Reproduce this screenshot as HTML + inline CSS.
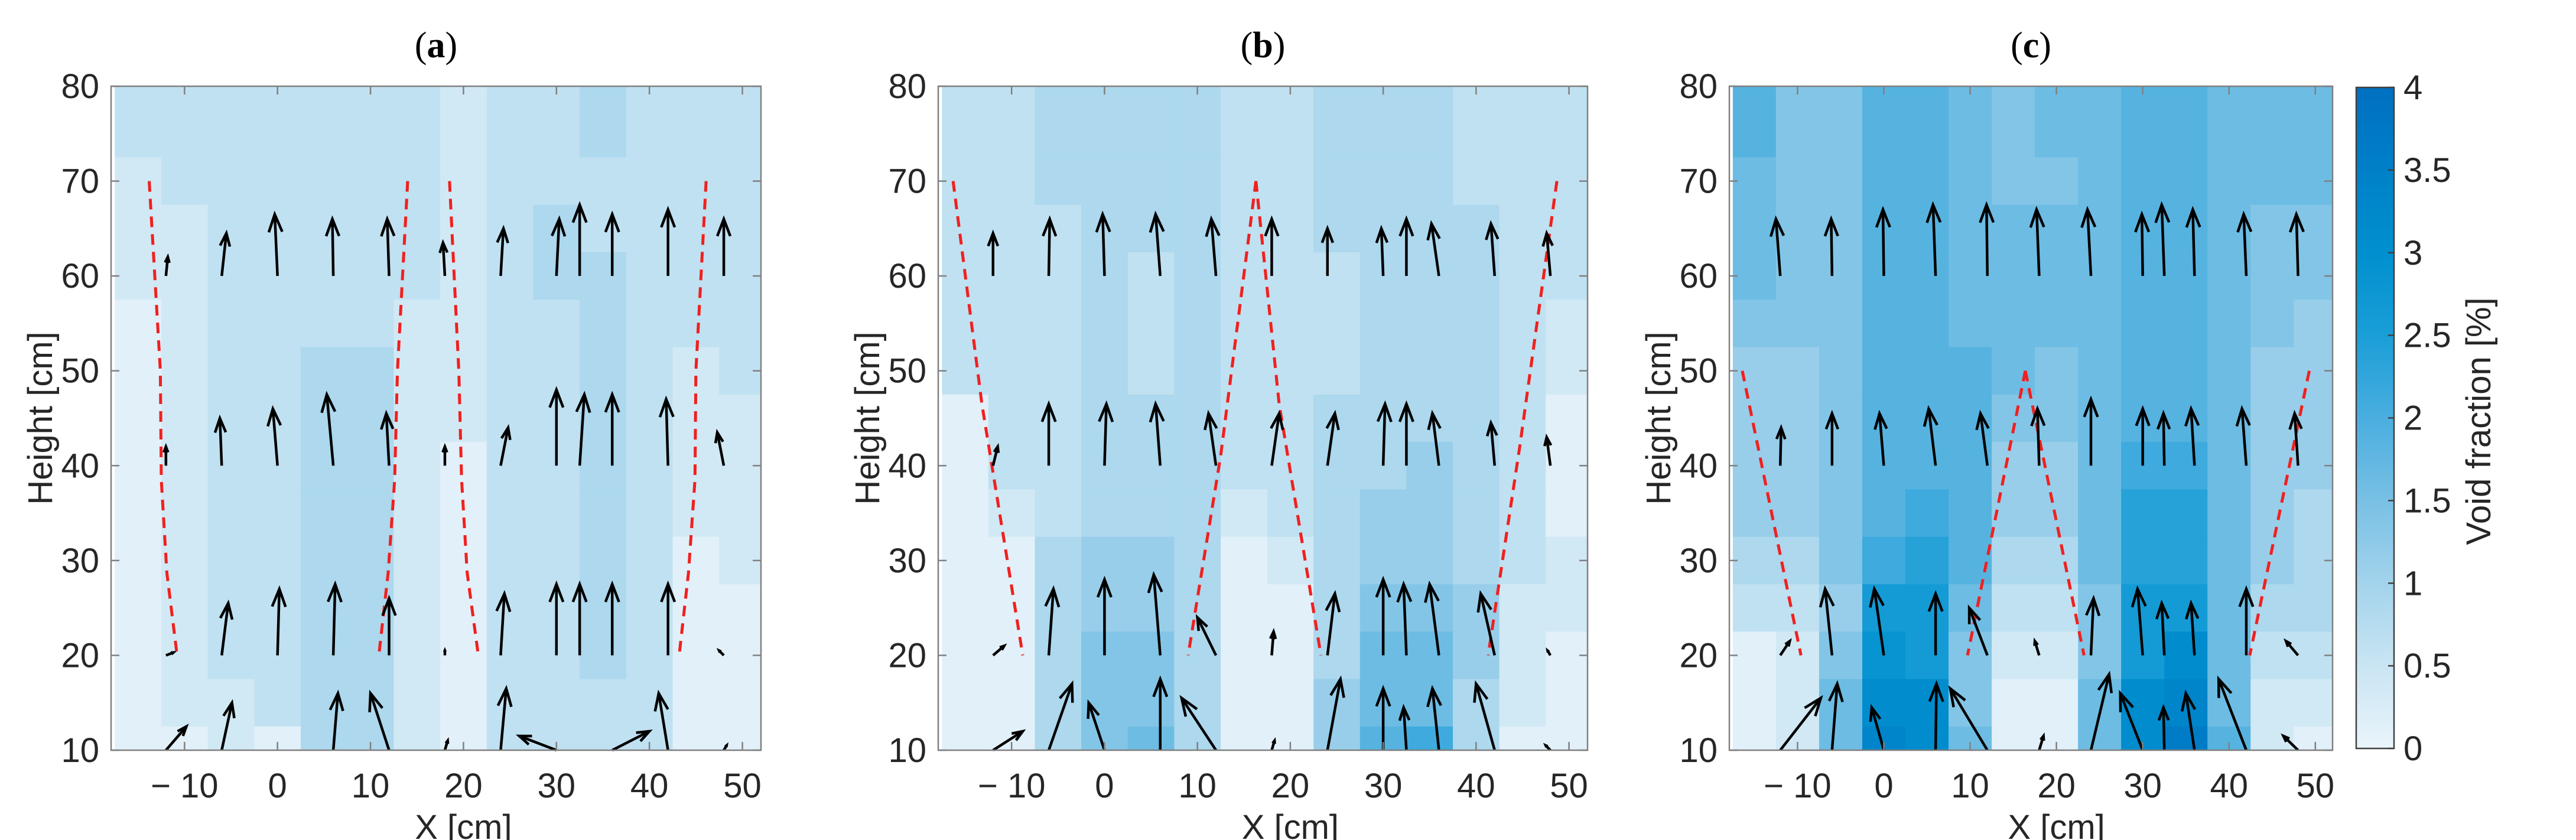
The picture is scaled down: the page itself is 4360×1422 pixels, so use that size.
<!DOCTYPE html>
<html><head><meta charset="utf-8"><style>
html,body{margin:0;padding:0;background:#fff;}
svg{display:block;font-family:"Liberation Sans",sans-serif;}
</style></head><body>
<svg id="fig" width="4360" height="1422" viewBox="0 0 4360 1422" xmlns="http://www.w3.org/2000/svg">
<defs>
<linearGradient id="cbgrad" x1="0" y1="1" x2="0" y2="0">
<stop offset="0" stop-color="#eaf4fb"/><stop offset="0.125" stop-color="#c9e5f3"/><stop offset="0.25" stop-color="#a3d3ec"/>
<stop offset="0.375" stop-color="#78c0e4"/><stop offset="0.5" stop-color="#4aaedf"/><stop offset="0.625" stop-color="#1a9ed7"/>
<stop offset="0.75" stop-color="#0090cf"/><stop offset="0.875" stop-color="#0080c8"/><stop offset="1" stop-color="#0070c0"/>
</linearGradient>
</defs>
</svg>
<script>
// ---- data ----
const xCenters = [-15,-10,-5,0,5,10,15,20,25,30,35,40,45,50];
const yCenters = [80,75,70,65,60,55,50,45,40,35,30,25,20,15,10];
const xTicks = [-10,0,10,20,30,40,50];
const xTickLabels = ["\u2212 10","0","10","20","30","40","50"];
const yTicks = [10,20,30,40,50,60,70,80];
const cbTicks = [0,0.5,1,1.5,2,2.5,3,3.5,4];
const cbTickLabels = ["0","0.5","1","1.5","2","2.5","3","3.5","4"];
const voidA = [
[.6,.6,.6,.7,.7,.6,.6,.4,.6,.7,.9,.7,.6,.6],
[.6,.6,.6,.7,.7,.7,.6,.4,.6,.7,.8,.7,.6,.6],
[.4,.6,.6,.7,.7,.7,.6,.4,.6,.7,.7,.7,.6,.6],
[.4,.4,.6,.7,.7,.7,.6,.4,.6,.8,.7,.7,.6,.6],
[.4,.4,.6,.7,.7,.7,.6,.4,.6,.8,.8,.7,.6,.6],
[.2,.4,.6,.7,.7,.7,.4,.4,.6,.7,.8,.7,.6,.6],
[.2,.4,.6,.7,.8,.8,.4,.4,.6,.7,.8,.7,.4,.6],
[.2,.4,.6,.7,.8,.8,.4,.4,.6,.7,.8,.7,.4,.4],
[.2,.4,.6,.7,.8,.8,.4,.2,.6,.7,.8,.7,.4,.4],
[.2,.4,.6,.7,.8,.8,.4,.2,.6,.7,.8,.7,.4,.4],
[.2,.4,.6,.7,.8,.8,.4,.1,.6,.7,.8,.7,.2,.4],
[.2,.4,.6,.7,.8,.8,.4,.1,.6,.7,.8,.7,.2,.2],
[.2,.4,.6,.6,.8,.8,.4,.2,.6,.7,.8,.6,.2,.2],
[.2,.4,.4,.6,.8,.9,.4,.2,.6,.6,.7,.6,.2,.2],
[.2,.2,.4,.2,.8,.9,.4,.2,.6,.6,.7,.6,.2,.2]];
const voidB = [
[.5,.5,.9,.9,.9,.9,.6,.5,.9,.9,.9,.6,.5,.5],
[.5,.5,.9,.9,.9,.9,.6,.5,.9,.9,.9,.6,.5,.5],
[.5,.5,.8,.9,.9,.9,.6,.6,.9,.9,.9,.6,.5,.5],
[.5,.5,.6,.9,.9,.9,.6,.6,.9,.9,.9,.8,.5,.5],
[.5,.5,.6,.9,.7,.9,.6,.6,.6,.9,.9,.8,.5,.5],
[.5,.5,.6,.9,.7,.8,.6,.6,.6,.9,.9,.9,.6,.4],
[.5,.5,.6,.9,.7,.8,.6,.6,.6,.9,.9,.9,.6,.4],
[.2,.5,.6,.9,.9,.8,.6,.6,.8,.9,.9,.9,.5,.2],
[.2,.5,.7,.9,.9,.9,.6,.6,.8,.9,1.1,.9,.5,.2],
[.2,.4,.7,.9,.9,.8,.4,.6,.8,1.1,1.1,.9,.5,.2],
[.2,.2,.8,1.1,1.0,.8,.2,.4,.9,1.2,1.2,.9,.5,.4],
[.2,.2,.9,1.1,1.1,.8,.2,.2,.9,1.3,1.3,1.0,.4,.4],
[.2,.2,.9,1.3,1.3,.8,.2,.2,.9,1.6,1.5,1.0,.4,.2],
[.2,.2,.9,1.3,1.3,.9,.2,.2,1.1,1.6,1.6,.9,.4,.2],
[.2,.2,.9,1.4,1.5,.9,.2,.2,1.1,1.8,2.2,.9,.2,.2]];
const voidC = [
[1.8,1.4,1.4,1.8,1.9,1.6,1.4,1.5,1.7,1.9,1.9,1.5,1.5,1.5],
[1.8,1.4,1.4,1.8,1.9,1.6,1.4,1.5,1.7,1.9,1.9,1.5,1.5,1.5],
[1.5,1.4,1.4,1.8,1.8,1.6,1.4,1.4,1.7,1.9,1.9,1.5,1.5,1.5],
[1.5,1.4,1.4,1.8,1.8,1.5,1.5,1.5,1.5,1.9,1.9,1.5,1.4,1.4],
[1.5,1.4,1.4,1.8,1.8,1.5,1.5,1.5,1.5,1.9,1.8,1.5,1.4,1.4],
[1.4,1.4,1.4,1.8,1.8,1.5,1.5,1.5,1.5,1.8,1.8,1.5,1.4,1.2],
[1.2,1.2,1.4,1.8,1.8,1.8,1.5,1.4,1.5,1.8,1.8,1.5,1.2,1.0],
[1.0,1.1,1.4,1.8,1.8,1.8,1.4,1.4,1.5,1.8,1.8,1.5,1.1,1.0],
[1.0,1.0,1.4,1.8,1.8,1.8,1.2,1.2,1.5,2.0,2.0,1.5,1.1,1.0],
[1.0,1.0,1.4,1.9,2.2,1.8,1.0,1.0,1.5,2.3,2.3,1.6,1.1,0.9],
[0.8,0.9,1.3,2.1,2.3,1.8,0.8,0.8,1.5,2.4,2.4,1.6,1.0,0.9],
[0.5,0.6,1.2,2.5,2.6,1.6,0.6,0.5,1.4,2.5,2.7,1.6,0.8,0.8],
[0.2,0.4,1.3,2.9,2.7,1.3,0.4,0.3,1.3,2.6,3.0,1.5,0.6,0.5],
[0.2,0.3,1.5,3.2,3.0,1.3,0.2,0.2,1.5,3.0,3.3,1.6,0.4,0.3],
[0.2,0.3,1.6,3.3,3.1,1.5,0.2,0.2,1.7,3.2,3.6,1.8,0.4,0.2]];
// arrows: [x0, y0, x1, y1]
const arrowsA = [
[-12,60,-11.8,62],[-6,60,-5.5,64.5],[0,60,-0.3,66.5],[6,60,5.9,66],[12,60,11.8,66],[18,60,17.8,63.5],[24,60,24.3,65],[30,60,30.3,66],[32.5,60,32.5,67.5],[36,60,36,66.5],[42,60,42,67],[48,60,48,66],
[-12,40,-12,42],[-6,40,-6.2,45],[0,40,-0.5,46],[6,40,5.3,47.5],[12,40,11.7,45.5],[18,40,18,42],[24,40,24.8,44],[30,40,30,48],[32.5,40,33,47.5],[36,40,36,47.5],[42,40,41.8,47],[48,40,47.3,43.5],
[-12,20,-11.2,20.3],[-6,20,-5.3,25.5],[0,20,0.2,27],[6,20,6.2,27.5],[12,20,12,26],[18,20,18,20.5],[24,20,24.4,26.5],[30,20,30,27.5],[32.5,20,32.5,27.5],[36,20,36,27.5],[42,20,42,27.5],[48,20,47.5,20.5],
[-12,10,-9.8,12.5],[-6,10,-4.9,15],[6,10,6.5,16],[12,10,10,16],[18,10,18.3,11],[24,10,24.6,16.5],[30,10,26,11.5],[36,10,40,12],[42,10,41,16],[48,10,48.3,10.5]];
const arrowsB = [
[-12,60,-12,64.5],[-6,60,-5.9,66],[0,60,-0.2,66.5],[6,60,5.5,66.5],[12,60,11.5,66],[18,60,18,66],[24,60,24,65],[30,60,29.8,65],[32.5,60,32.5,66],[36,60,35.2,65.5],[42,60,41.6,65.5],[48,60,47.6,64.5],
[-12,40,-11.5,42],[-6,40,-6,46.5],[0,40,0.2,46.5],[6,40,5.5,46.5],[12,40,11.2,45.5],[18,40,18.8,45.5],[24,40,24.8,45.5],[30,40,30.2,46.5],[32.5,40,32.5,46.5],[36,40,35.3,45.5],[42,40,41.6,44.5],[48,40,47.6,43],
[-12,20,-10.8,21],[-6,20,-5.5,27],[0,20,0,28],[6,20,5.3,28.5],[12,20,10,24],[18,20,18.2,22.5],[24,20,24.8,26.5],[30,20,30,28],[32.5,20,32.2,27.5],[36,20,35,27.5],[42,20,40.5,26.5],[48,20,47.7,20.5],
[-12,10,-8.8,12],[-6,10,-3.5,17],[0,10,-1.7,15],[6,10,6,17.5],[12,10,8.3,15.5],[18,10,18.3,11],[24,10,25.4,17.5],[30,10,30,16.5],[32.5,10,32.2,14.5],[36,10,35.3,16.5],[42,10,40,17],[48,10,47.5,10.5]];
const arrowsC = [
[-12,60,-12.5,66],[-6,60,-6.1,66],[0,60,-0.1,67],[6,60,5.7,67.5],[12,60,11.9,67.5],[18,60,17.7,67],[24,60,23.6,67],[30,60,29.9,66.5],[32.5,60,32.2,67.5],[36,60,35.8,67],[42,60,41.7,66.5],[48,60,47.8,66.5],
[-12,40,-11.9,44],[-6,40,-6,45.5],[0,40,-0.5,45.5],[6,40,5.2,46],[12,40,11.2,45.5],[18,40,17.8,46],[24,40,24,47],[30,40,30,46],[32.5,40,32.4,45.5],[36,40,35.6,46],[42,40,41.5,46],[48,40,47.6,45.5],
[-12,20,-10.9,21.5],[-6,20,-6.8,27],[0,20,-1.1,27],[6,20,6,26.5],[12,20,9.9,25],[18,20,17.5,21.5],[24,20,24.3,26],[30,20,29.4,27],[32.5,20,32.2,25.5],[36,20,35.6,25.5],[42,20,42,27],[48,20,46.6,21.5],
[-12,10,-7.3,15.5],[-6,10,-5.4,17],[0,10,-1.4,14.5],[6,10,6.1,17],[12,10,7.7,16.5],[18,10,18.5,11.5],[24,10,26.1,18],[30,10,27.4,16],[32.5,10,32.4,14.5],[36,10,35,16],[42,10,38.8,17.5],[48,10,46.3,11.5]];
// red dashed boundary lines: arrays of [x,y]
const linesA = [
[[-13.8,70],[-12.6,50],[-12.5,38.5],[-11.9,28.7],[-10.8,20]],
[[14,70],[12.9,50],[12.6,38.5],[11.9,28.7],[10.9,20]],
[[18.5,70],[19.5,50],[19.8,38.5],[20.4,28.7],[21.6,20]],
[[46.1,70],[45,50],[44.9,38.5],[44.2,28.7],[43.2,20]]];
const linesB = [
[[-16.3,70],[-13.2,46.5],[-8.8,20]],
[[16.3,70],[12.5,41],[9,20]],
[[16.3,70],[18.8,46.5],[23.3,20]],
[[48.7,70],[44.7,42],[41.3,20]]];
const linesC = [
[[-16.4,50],[-9.6,20]],
[[16.4,50],[9.7,20]],
[[16.4,50],[23.2,20]],
[[49.3,50],[42.4,20]]];

// ---- rendering ----
const NS="http://www.w3.org/2000/svg";
const svg=document.getElementById('fig');
function mk(tag,attrs,parent){const e=document.createElementNS(NS,tag);for(const k in attrs)e.setAttribute(k,attrs[k]);(parent||svg).appendChild(e);return e;}
const stops=[[0,[234,244,251]],[0.5,[201,229,243]],[1,[163,211,236]],[1.5,[120,192,228]],[2,[74,174,223]],[2.5,[26,158,215]],[3,[0,144,207]],[3.5,[0,128,200]],[4,[0,112,192]]];
function cmap(v){let q=Math.min(3.875,Math.floor(Math.max(0,v)/0.25)*0.25+0.125);
 for(let i=0;i<stops.length-1;i++){if(q<=stops[i+1][0]){const t=(q-stops[i][0])/(stops[i+1][0]-stops[i][0]);const a=stops[i][1],b=stops[i+1][1];
 return 'rgb('+a.map((c,j)=>Math.round(c+(b[j]-c)*t)).join(',')+')';}}return 'rgb(0,112,192)';}
const XMIN=-17.9,XMAX=52,YMIN=10,YMAX=80,TOP=146,BOT=1270;
const panels=[
 {id:'a',L:188,R:1288,data:voidA,arrows:arrowsA,lines:linesA},
 {id:'b',L:1588,R:2687,data:voidB,arrows:arrowsB,lines:linesB},
 {id:'c',L:2927,R:3948,data:voidC,arrows:arrowsC,lines:linesC}];
panels.forEach(p=>{
 const sx=x=>p.L+(x-XMIN)/(XMAX-XMIN)*(p.R-p.L);
 const sy=y=>BOT-(y-YMIN)/(YMAX-YMIN)*(BOT-TOP);
 const g=mk('g',{});
 
 
 const cp=mk('clipPath',{id:'clip'+p.id},g);mk('rect',{x:p.L,y:TOP,width:p.R-p.L,height:BOT-TOP},cp);
 const hm=mk('g',{'clip-path':'url(#clip'+p.id+')'},g);
 
 
 yCenters.forEach((yc,ri)=>xCenters.forEach((xc,ci)=>{
  const x0=sx(xc-2.5),x1=sx(xc+2.5),y0=sy(yc+2.5),y1=sy(yc-2.5);
  const r=mk('rect',{x:x0,y:y0,width:x1-x0+1,height:y1-y0+1,fill:cmap(p.data[ri][ci])},hm);
  
  
 }));
 p.lines.forEach(l=>{
  const pl=mk('polyline',{points:l.map(q=>sx(q[0])+','+sy(q[1])).join(' '),fill:'none',stroke:'#f0201e','stroke-width':5,'stroke-dasharray':'18,12'},g);
  
  
 });
 p.arrows.forEach(a=>{
  const x0=sx(a[0]),y0=sy(a[1]),x1=sx(a[2]),y1=sy(a[3]);
  const dx=x1-x0,dy=y1-y0,len=Math.hypot(dx,dy);if(len<1)return;
  const h=Math.min(0.3*len,30),ux=dx/len,uy=dy/len,w=h*0.38;
  const ag=mk('g',{stroke:'#000','stroke-width':4.5,fill:'none'},g);
  
  
  mk('line',{x1:x0,y1:y0,x2:x1,y2:y1},ag);
  mk('polyline',{points:(x1-ux*h-uy*w)+','+(y1-uy*h+ux*w)+' '+x1+','+y1+' '+(x1-ux*h+uy*w)+','+(y1-uy*h-ux*w)},ag);
 });
 const box=mk('rect',{x:p.L,y:TOP,width:p.R-p.L,height:BOT-TOP,fill:'none',stroke:'#808080','stroke-width':2.5},g);
 
 
 xTicks.forEach((t,i)=>{const x=sx(t);
  mk('line',{x1:x,y1:BOT,x2:x,y2:BOT-14,stroke:'#808080','stroke-width':2.5},g);
  mk('line',{x1:x,y1:TOP,x2:x,y2:TOP+14,stroke:'#808080','stroke-width':2.5},g);
  const tx=mk('text',{x:x,y:1350,'font-size':58,fill:'#262626','text-anchor':'middle'},g);tx.textContent=xTickLabels[i];
  
  
 });
 yTicks.forEach(t=>{const y=sy(t);
  mk('line',{x1:p.L,y1:y,x2:p.L+14,y2:y,stroke:'#808080','stroke-width':2.5},g);
  mk('line',{x1:p.R,y1:y,x2:p.R-14,y2:y,stroke:'#808080','stroke-width':2.5},g);
  const ty=mk('text',{x:p.L-20,y:y+20,'font-size':58,fill:'#262626','text-anchor':'end'},g);ty.textContent=String(t);
  
  
 });
 const xl=mk('text',{x:(sx(-10)+sx(50))/2,y:1420,'font-size':58,fill:'#262626','text-anchor':'middle'},g);xl.textContent='X [cm]';
 
 
 const ylx=p.L-100;
 const yl=mk('text',{x:ylx,y:708,'font-size':58,fill:'#262626','text-anchor':'middle',transform:'rotate(-90 '+ylx+' 708)'},g);yl.textContent='Height [cm]';
 
 
 const ti=mk('text',{x:(p.L+p.R)/2,y:97,'font-size':62,fill:'#000','text-anchor':'middle','font-family':'Liberation Serif, serif'},g);
 ti.innerHTML='(<tspan font-weight="bold">'+p.id+'</tspan>)';
 
 
});
const CBL=3988,CBR=4052,CBT=148,CBB=1267;
const cb=mk('g',{});


mk('rect',{x:CBL,y:CBT,width:CBR-CBL,height:CBB-CBT,fill:'url(#cbgrad)',stroke:'#404040','stroke-width':2.5},cb);
cbTicks.forEach((t,i)=>{const y=CBB-t/4*(CBB-CBT);
 mk('line',{x1:CBR,y1:y,x2:CBR-10,y2:y,stroke:'#404040','stroke-width':2.5},cb);
 const tx=mk('text',{x:4068,y:y+20,'font-size':58,fill:'#262626'},cb);tx.textContent=cbTickLabels[i];
 
 
});
const cbl=mk('text',{x:4215,y:713,'font-size':58,fill:'#262626','text-anchor':'middle',transform:'rotate(-90 4215 713)'},cb);cbl.textContent='Void fraction [%]';


</script>
</body></html>
